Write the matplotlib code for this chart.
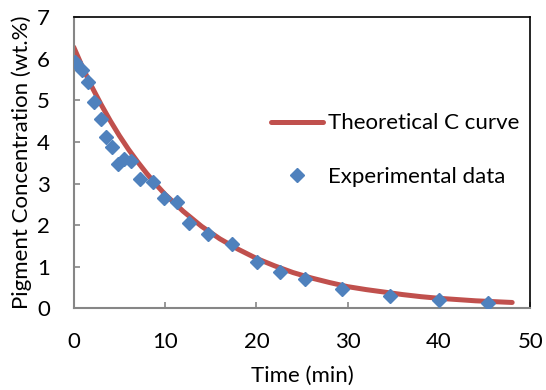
import matplotlib
matplotlib.use('Agg')
import matplotlib.pyplot as plt

matplotlib.rcParams['font.family'] = 'Lato'
matplotlib.rcParams['font.size'] = 16

# experimental points
time_exp = [0.14, 0.87, 1.6, 2.22, 2.96, 3.54, 4.23, 4.89, 5.51, 6.24, 7.26, 8.65,
            9.93, 11.28, 12.63, 14.68, 17.3, 20.04, 22.6, 25.3, 29.35, 34.64, 40.04, 45.4]
conc_exp = [5.92, 5.74, 5.43, 4.96, 4.56, 4.12, 3.88, 3.48, 3.60, 3.54, 3.10, 3.04,
            2.64, 2.55, 2.04, 1.78, 1.54, 1.12, 0.88, 0.71, 0.46, 0.30, 0.20, 0.12]

# theoretical curve
time_th = [0, 1, 2, 3, 4, 5, 6, 7, 8, 9, 10, 12, 14, 16, 18, 20, 22, 24, 26, 28,
           30, 32, 34, 36, 38, 40, 42, 44, 46, 48]
conc_th = [6.28, 5.78, 5.32, 4.90, 4.51, 4.15, 3.82, 3.52, 3.24, 2.98, 2.74, 2.33,
           1.97, 1.67, 1.42, 1.20, 1.02, 0.86, 0.73, 0.62, 0.52, 0.45, 0.39, 0.33,
           0.28, 0.24, 0.21, 0.18, 0.16, 0.14]

fig = plt.figure(figsize=(5.46, 3.90), dpi=100)
ax = fig.add_axes([0.135, 0.2095, 0.8365, 0.7465])

ax.plot(time_th, conc_th, color='#C0504D', linewidth=3.6, solid_capstyle='round',
        label='Theoretical C curve', zorder=2)
ax.plot(time_exp, conc_exp, linestyle='none', marker='D', markersize=7,
        color='#4F81BD', label='Experimental data', zorder=3)

ax.set_xlim(0, 50)
ax.set_ylim(0, 7)
ax.set_xticks(range(0, 51, 10))
ax.set_yticks(range(0, 8))

for side in ['left', 'bottom']:
    ax.spines[side].set_color('#868686')
    ax.spines[side].set_linewidth(1.5)
for side in ['top', 'right']:
    ax.spines[side].set_color('black')
    ax.spines[side].set_linewidth(1.2)

ax.tick_params(direction='in', length=4, width=1.2, color='#868686', pad=17)

ax.set_xlabel('Time (min)', labelpad=10)
ax.set_ylabel('Pigment Concentration (wt.%)', labelpad=4)

ax.legend(loc='upper left', bbox_to_anchor=(0.413, 0.70), frameon=False,
          handlelength=2.35, handletextpad=0.2, labelspacing=1.5, borderaxespad=0)

fig.savefig('out.png', dpi=100)
